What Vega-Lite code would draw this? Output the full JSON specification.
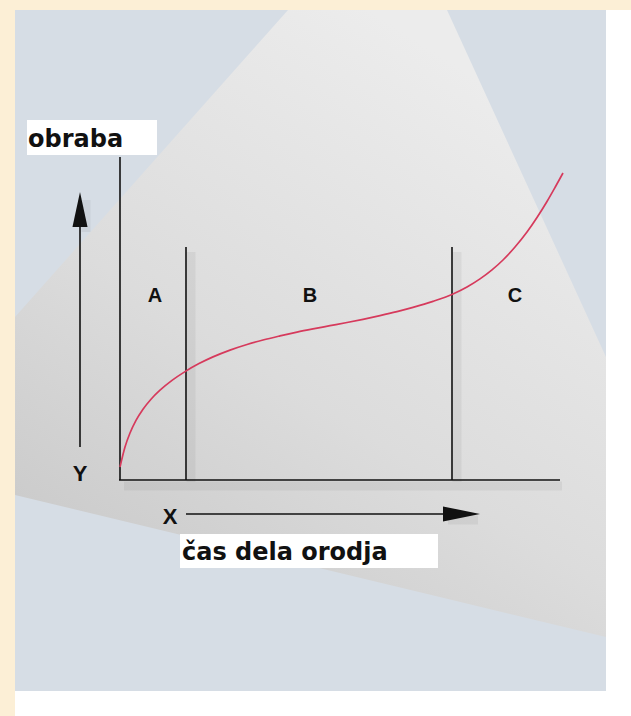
{
  "$schema": "https://vega.github.io/schema/vega-lite/v6.json",
  "width": 631,
  "height": 716,
  "autosize": {"type": "none"},
  "padding": 0,
  "background": "#ffffff",
  "config": {"view": {"stroke": null}},
  "datasets": {
    "beige": [
      {"x": 0, "x2": 631, "y": 0, "y2": 10},
      {"x": 0, "x2": 15, "y": 0, "y2": 716}
    ],
    "panel": [{"x": 15, "x2": 606, "y": 10, "y2": 691}],
    "gray": [
      {"x": 15, "y": 317, "y2": 495},
      {"x": 288, "y": 10, "y2": 560.6},
      {"x": 447, "y": 10, "y2": 598.8},
      {"x": 606, "y": 357, "y2": 637}
    ],
    "shadows": [
      {"x": 191, "y": 252, "x2": 191, "y2": 482},
      {"x": 457, "y": 252, "x2": 457, "y2": 482},
      {"x": 124, "y": 486, "x2": 562, "y2": 486},
      {"x": 86, "y": 200, "x2": 86, "y2": 232},
      {"x": 448, "y": 520, "x2": 478, "y2": 520}
    ],
    "boxes": [
      {"x": 27, "x2": 157, "y": 120, "y2": 155},
      {"x": 180, "x2": 438, "y": 534, "y2": 568}
    ],
    "titles": [
      {"x": 28, "y": 147, "label": "obraba"},
      {"x": 182, "y": 560, "label": "čas dela orodja"}
    ],
    "zones": [
      {"x": 155, "y": 302, "label": "A"},
      {"x": 310, "y": 302, "label": "B"},
      {"x": 515, "y": 302, "label": "C"}
    ],
    "axisletters": [
      {"x": 80, "y": 481, "label": "Y"},
      {"x": 170, "y": 524, "label": "X"}
    ],
    "rules": [
      {"x": 120, "y": 157, "x2": 120, "y2": 480},
      {"x": 119, "y": 480, "x2": 560, "y2": 480},
      {"x": 186, "y": 247, "x2": 186, "y2": 480},
      {"x": 452, "y": 247, "x2": 452, "y2": 480},
      {"x": 80, "y": 222, "x2": 80, "y2": 447},
      {"x": 186, "y": 514, "x2": 447, "y2": 514}
    ],
    "curve": [
      {"x": 120, "y": 467}, {"x": 125, "y": 447}, {"x": 130, "y": 433},
      {"x": 136, "y": 420.4}, {"x": 143, "y": 409.2}, {"x": 151, "y": 399.2},
      {"x": 160, "y": 390.2}, {"x": 172, "y": 380.4}, {"x": 185, "y": 371.6},
      {"x": 199, "y": 363.6}, {"x": 213, "y": 356.9}, {"x": 230, "y": 350.1},
      {"x": 247, "y": 344.5}, {"x": 263, "y": 340}, {"x": 280, "y": 335.9},
      {"x": 297, "y": 332.1}, {"x": 313, "y": 328.9}, {"x": 330, "y": 325.7},
      {"x": 347, "y": 322.5}, {"x": 363, "y": 319.3}, {"x": 380, "y": 315.6},
      {"x": 397, "y": 311.6}, {"x": 413, "y": 307.4}, {"x": 433, "y": 301.4},
      {"x": 453, "y": 294}, {"x": 467, "y": 287}, {"x": 480, "y": 278.9},
      {"x": 492, "y": 269.9}, {"x": 503, "y": 260}, {"x": 515, "y": 247},
      {"x": 527, "y": 232}, {"x": 537, "y": 217.5}, {"x": 547, "y": 201.5},
      {"x": 555, "y": 187.5}, {"x": 563, "y": 173}
    ],
    "uparrow": [{"x": 80, "y": 209.5}],
    "rightarrow": [{"x": 461.5, "y": 514}]
  },
  "encoding": {
    "x": {"field": "x", "type": "quantitative", "scale": {"domain": [0, 631], "nice": false, "zero": false}, "axis": null},
    "y": {"field": "y", "type": "quantitative", "scale": {"domain": [0, 716], "nice": false, "zero": false, "reverse": true}, "axis": null}
  },
  "layer": [
    {
      "data": {"name": "beige"},
      "mark": {"type": "rect", "color": "#fcefd6"},
      "encoding": {"x2": {"field": "x2"}, "y2": {"field": "y2"}}
    },
    {
      "data": {"name": "panel"},
      "mark": {"type": "rect", "color": "#d6dde5"},
      "encoding": {"x2": {"field": "x2"}, "y2": {"field": "y2"}}
    },
    {
      "data": {"name": "gray"},
      "mark": {
        "type": "area",
        "interpolate": "linear",
        "fill": {
          "gradient": "linear",
          "x1": 0.6, "y1": 0, "x2": 0, "y2": 1,
          "stops": [
            {"offset": 0, "color": "#ececec"},
            {"offset": 0.5, "color": "#dcdcdc"},
            {"offset": 1, "color": "#c4c4c4"}
          ]
        }
      },
      "encoding": {"y2": {"field": "y2"}}
    },
    {
      "data": {"name": "shadows"},
      "mark": {"type": "rule", "color": "#000000", "strokeWidth": 9, "opacity": 0.05},
      "encoding": {"x2": {"field": "x2"}, "y2": {"field": "y2"}}
    },
    {
      "data": {"name": "boxes"},
      "mark": {"type": "rect", "color": "#ffffff"},
      "encoding": {"x2": {"field": "x2"}, "y2": {"field": "y2"}}
    },
    {
      "data": {"name": "titles"},
      "mark": {"type": "text", "font": "DejaVu Sans", "fontWeight": "bold", "fontSize": 24, "align": "left", "baseline": "alphabetic", "color": "#111111"},
      "encoding": {"text": {"field": "label"}}
    },
    {
      "data": {"name": "zones"},
      "mark": {"type": "text", "font": "Liberation Sans", "fontWeight": "bold", "fontSize": 20, "align": "center", "baseline": "alphabetic", "color": "#111111"},
      "encoding": {"text": {"field": "label"}}
    },
    {
      "data": {"name": "axisletters"},
      "mark": {"type": "text", "font": "Liberation Sans", "fontWeight": "bold", "fontSize": 22, "align": "center", "baseline": "alphabetic", "color": "#111111"},
      "encoding": {"text": {"field": "label"}}
    },
    {
      "data": {"name": "rules"},
      "mark": {"type": "rule", "color": "#111111", "strokeWidth": 1.6},
      "encoding": {"x2": {"field": "x2"}, "y2": {"field": "y2"}}
    },
    {
      "data": {"name": "curve"},
      "mark": {"type": "line", "color": "#d63a5c", "strokeWidth": 1.7, "interpolate": "monotone"},
      "encoding": {}
    },
    {
      "data": {"name": "uparrow"},
      "mark": {"type": "point", "shape": "M0,-1L0.43,1L-0.43,1Z", "size": 1225, "filled": true, "opacity": 1, "color": "#111111", "strokeWidth": 0}
    },
    {
      "data": {"name": "rightarrow"},
      "mark": {"type": "point", "shape": "M1,0L-1,0.41L-1,-0.41Z", "size": 1369, "filled": true, "opacity": 1, "color": "#111111", "strokeWidth": 0}
    }
  ]
}
